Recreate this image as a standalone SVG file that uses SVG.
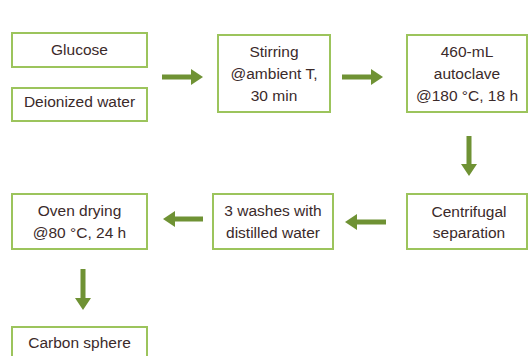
<svg xmlns="http://www.w3.org/2000/svg" width="529" height="356" viewBox="0 0 529 356">
<style>
.box{fill:#ffffff;stroke:#9cc45c;stroke-width:2}
.t{font-family:"Liberation Sans",Arial,sans-serif;font-size:15.5px;fill:#3b2a2a;text-anchor:middle}
.arr{fill:#6f9234}
</style>
<rect width="529" height="356" fill="#ffffff"/>
<g id="glucose"><rect class="box" x="12" y="33" width="135" height="34"/><text class="t" x="79.5" y="54.5">Glucose</text></g>
<g id="water"><rect class="box" x="12" y="88" width="135" height="33"/><text class="t" x="79.5" y="106.5">Deionized water</text></g>
<g id="stirring"><rect class="box" x="218" y="35" width="112" height="77"/><text class="t" x="274" y="56.5">Stirring</text><text class="t" x="274" y="78.5">@ambient T,</text><text class="t" x="274" y="101">30 min</text></g>
<g id="autoclave"><rect class="box" x="407" y="35" width="120" height="77"/><text class="t" x="467" y="56.5">460-mL</text><text class="t" x="467" y="78.5">autoclave</text><text class="t" x="467" y="100.5">@180 °C, 18 h</text></g>
<g id="centrifugal"><rect class="box" x="407" y="194" width="120" height="55"/><text class="t" x="469" y="216.5">Centrifugal</text><text class="t" x="469" y="237.5">separation</text></g>
<g id="washes"><rect class="box" x="213" y="194" width="120" height="55"/><text class="t" x="273" y="215.5">3 washes with</text><text class="t" x="273" y="237.5">distilled water</text></g>
<g id="oven"><rect class="box" x="12" y="194" width="135" height="55"/><text class="t" x="79.5" y="215.5">Oven drying</text><text class="t" x="79.5" y="237.5">@80 °C, 24 h</text></g>
<g id="carbon"><rect class="box" x="12" y="327" width="135" height="40"/><text class="t" x="79.5" y="347.5">Carbon sphere</text></g>
<g id="connectors">
<polygon class="arr" points="162,74.5 191,74.5 191,69 203,77 191,85 191,79.5 162,79.5"/>
<polygon class="arr" points="342,74.5 371,74.5 371,69 383,77 371,85 371,79.5 342,79.5"/>
<polygon class="arr" points="466.5,136 471.5,136 471.5,164 477,164 469,176 461,164 466.5,164"/>
<polygon class="arr" points="386,219.5 357,219.5 357,214 345,222 357,230 357,224.5 386,224.5"/>
<polygon class="arr" points="203,216.5 175,216.5 175,211 163,219 175,227 175,221.5 203,221.5"/>
<polygon class="arr" points="80.5,269 85.5,269 85.5,298 91,298 83,310 75,298 80.5,298"/>
</g>
</svg>
